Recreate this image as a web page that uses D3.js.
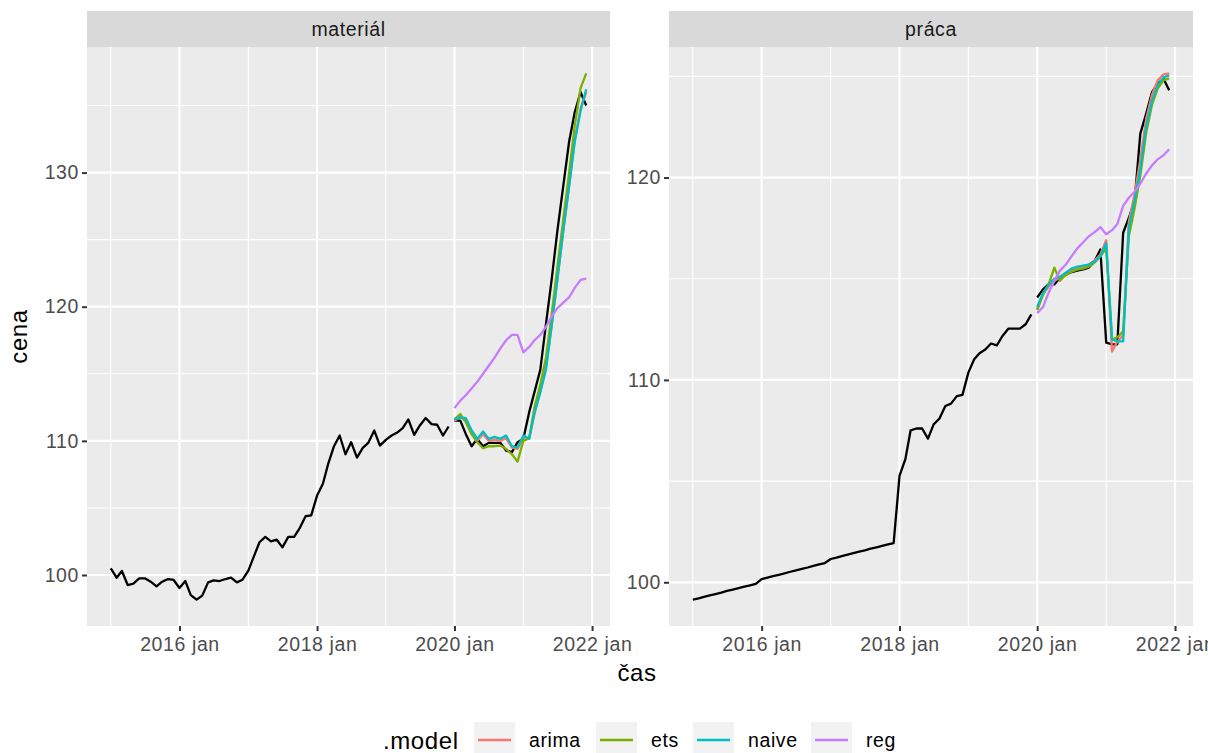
<!DOCTYPE html>
<html>
<head>
<meta charset="utf-8">
<script src="https://cdn.jsdelivr.net/npm/d3@7"></script>
<style>
  body { margin: 0; background: #fff; }
  svg { display: block; }
  text { font-family: "Liberation Sans", Arial, sans-serif; }
</style>
</head>
<body>
<svg id="chart" width="1208" height="753"></svg>
<script>
// ---- data (monthly) ----
const trainStart = new Date(2015, 0, 1);
const testStart = new Date(2020, 0, 1);

const facets = ["materiál", "práca"];
const models = ["arima", "ets", "naive", "reg"];

// materiál: actual 2015-01 .. 2019-12
const materialTrain = [
  100.5, 99.8, 100.3, 99.25, 99.35, 99.75, 99.75, 99.5, 99.15, 99.5, 99.7, 99.63,
  99.03, 99.55, 98.5, 98.16, 98.46, 99.45, 99.6, 99.55, 99.7, 99.8, 99.45, 99.65,
  100.32, 101.44, 102.44, 102.84, 102.5, 102.63, 102.06, 102.84, 102.84, 103.5, 104.38, 104.45,
  105.92, 106.8, 108.28, 109.6, 110.4, 109.0, 109.9, 108.75, 109.48, 109.87, 110.77, 109.65,
  110.07, 110.4, 110.6, 110.95, 111.6, 110.45, 111.15, 111.7, 111.25, 111.2, 110.4, 111.07
];
// materiál: actual 2020-01 .. 2021-12
const materialTest = [
  111.51, 111.51, 110.52, 109.6, 110.15, 109.6, 109.85, 109.85, 109.85, 109.28, 109.16, 109.9,
  110.15, 112.14, 113.63, 115.3, 118.7, 122.1, 125.7, 129.0, 132.3, 134.5, 136.0, 135.0
];
const materialArima = [
  111.5, 111.8, 111.5, 110.6, 110.0, 110.5, 110.0, 110.1, 110.0, 110.2, 109.5, 109.4,
  110.2, 110.2, 112.0, 113.7, 115.5, 118.6, 122.0, 125.6, 129.0, 132.4, 134.8, 136.0
];
const materialEts = [
  111.6, 112.0, 111.4, 110.5, 109.9, 109.45, 109.6, 109.6, 109.65, 109.4, 109.0, 108.45,
  110.0, 110.2, 112.5, 114.2, 116.2, 119.5, 123.0, 126.5, 130.0, 133.5, 136.3, 137.4
];
const materialNaive = [
  111.6, 111.75, 111.7, 110.8, 110.15, 110.7, 110.15, 110.3, 110.15, 110.4, 109.6, 109.5,
  110.4, 110.15, 112.1, 113.6, 115.3, 118.7, 122.1, 125.7, 129.0, 132.3, 134.6, 136.2
];
const materialReg = [
  112.44, 113.0, 113.4, 113.9, 114.4, 115.0, 115.6, 116.2, 116.9, 117.5, 117.9, 117.9,
  116.6, 117.0, 117.5, 117.9, 118.5, 119.3, 119.9, 120.3, 120.7, 121.4, 122.0, 122.1
];

// práca: actual 2015-01 .. 2019-12
const pracaTrain = [
  99.14, 99.21, 99.28, 99.35, 99.42, 99.49, 99.57, 99.64, 99.71, 99.78, 99.85, 99.92,
  100.16, 100.23, 100.3, 100.37, 100.44, 100.52, 100.59, 100.66, 100.73, 100.81, 100.88, 100.95,
  101.15, 101.22, 101.29, 101.37, 101.44, 101.51, 101.58, 101.66, 101.73, 101.8, 101.87, 101.94,
  105.26, 106.08, 107.51, 107.6, 107.6, 107.1, 107.8, 108.09, 108.71, 108.83, 109.2, 109.26,
  110.36, 111.02, 111.32, 111.5, 111.8, 111.71, 112.17, 112.53, 112.53, 112.53, 112.75, 113.24
];
const pracaTest = [
  114.07, 114.47, 114.72, 114.72, 115.05, 115.2, 115.33, 115.4, 115.46, 115.55, 115.87, 116.45,
  111.84, 111.76, 111.76, 117.27, 118.0, 118.88, 122.17, 123.16, 124.22, 124.64, 124.88, 124.31
];
const pracaArima = [
  113.5, 114.25, 114.6, 114.9, 115.05, 115.3, 115.45, 115.55, 115.6, 115.7, 115.9, 116.2,
  116.9, 111.4, 111.9, 112.2, 117.8, 119.2, 120.9, 122.9, 124.1, 124.8, 125.1, 125.15
];
const pracaEts = [
  113.45, 114.2, 114.7, 115.55, 114.9, 115.2, 115.35, 115.45, 115.5, 115.6, 115.8, 116.1,
  116.5, 112.0, 112.1, 112.4, 117.1, 118.5, 120.1, 122.2, 123.6, 124.4, 124.8, 124.9
];
const pracaNaive = [
  113.6, 114.3, 114.7, 115.0, 115.1, 115.3, 115.5, 115.6, 115.65, 115.7, 115.85, 116.1,
  116.75, 112.0, 111.9, 111.9, 117.5, 118.9, 120.4, 122.5, 123.8, 124.55, 124.95, 125.05
];
const pracaReg = [
  113.3, 113.6, 114.3, 114.9, 115.4, 115.7, 116.1, 116.5, 116.8, 117.1, 117.3, 117.55,
  117.2, 117.4, 117.7, 118.6, 119.0, 119.3, 119.7, 120.2, 120.6, 120.9, 121.1, 121.4
];

const xMajorTicks = [new Date(2016, 0, 1), new Date(2018, 0, 1), new Date(2020, 0, 1), new Date(2022, 0, 1)];
const xMinorTicks = [new Date(2015, 0, 1), new Date(2017, 0, 1), new Date(2019, 0, 1), new Date(2021, 0, 1)];
const xTickLabel = d => d.getFullYear() + " jan";
const yMajorTicks = [[100, 110, 120, 130], [100, 110, 120]];
const yMinorTicks = [[105, 115, 125, 135], [105, 115, 125]];

const modelColors = ["#F8766D", "#7CAE00", "#00BFC4", "#C77CFF"];

// ---- layout ----
const svg = d3.select("#chart");
const panelTop = 47, panelBottom = 626, stripTop = 11;
const panels = [
  { x0: 87, x1: 610, train: materialTrain, test: materialTest,
    fc: [materialArima, materialEts, materialNaive, materialReg] },
  { x0: 669, x1: 1193, train: pracaTrain, test: pracaTest,
    fc: [pracaArima, pracaEts, pracaNaive, pracaReg] }
];

// text style: slightly wider than Arial metrics, like the reference
const smallText = sel => sel
  .style("font-size", "19.5px")
  .style("letter-spacing", "0.6px");

const monthsTrain = d3.timeMonth.range(trainStart, testStart);
const monthsTest = d3.timeMonth.range(testStart, new Date(2022, 0, 1));

const lastMonth = monthsTest[monthsTest.length - 1];
const span = lastMonth - trainStart;
const xDomain = [new Date(+trainStart - span * 0.05), new Date(+lastMonth + span * 0.05)];

const colorScale = d3.scaleOrdinal().domain(models).range(modelColors);

panels.forEach((p, i) => {
  const g = svg.append("g");

  const x = d3.scaleTime().domain(xDomain).range([p.x0, p.x1]);
  const all = p.train.concat(p.test, ...p.fc);
  const [lo, hi] = d3.extent(all);
  const pad = (hi - lo) * 0.05;
  const y = d3.scaleLinear().domain([lo - pad, hi + pad]).range([panelBottom, panelTop]);

  // background
  g.append("rect")
    .attr("x", p.x0).attr("y", panelTop)
    .attr("width", p.x1 - p.x0).attr("height", panelBottom - panelTop)
    .attr("fill", "#EBEBEB");

  // strip
  g.append("rect")
    .attr("x", p.x0).attr("y", stripTop)
    .attr("width", p.x1 - p.x0).attr("height", panelTop - stripTop)
    .attr("fill", "#D9D9D9");
  g.append("text")
    .attr("x", (p.x0 + p.x1) / 2).attr("y", (stripTop + panelTop) / 2)
    .attr("dy", "0.35em")
    .attr("text-anchor", "middle")
    .call(smallText)
    .style("fill", "#1A1A1A")
    .text(facets[i]);

  // grid
  g.selectAll(".ymin").data(yMinorTicks[i]).join("line")
    .attr("x1", p.x0).attr("x2", p.x1)
    .attr("y1", d => y(d)).attr("y2", d => y(d))
    .attr("stroke", "#fff").attr("stroke-width", 1.1);
  g.selectAll(".xmin").data(xMinorTicks).join("line")
    .attr("y1", panelTop).attr("y2", panelBottom)
    .attr("x1", d => x(d)).attr("x2", d => x(d))
    .attr("stroke", "#fff").attr("stroke-width", 1.1);
  g.selectAll(".ymaj").data(yMajorTicks[i]).join("line")
    .attr("x1", p.x0).attr("x2", p.x1)
    .attr("y1", d => y(d)).attr("y2", d => y(d))
    .attr("stroke", "#fff").attr("stroke-width", 2.2);
  g.selectAll(".xmaj").data(xMajorTicks).join("line")
    .attr("y1", panelTop).attr("y2", panelBottom)
    .attr("x1", d => x(d)).attr("x2", d => x(d))
    .attr("stroke", "#fff").attr("stroke-width", 2.2);

  // axes
  const xAxis = g.append("g")
    .attr("transform", `translate(0,${panelBottom})`)
    .call(d3.axisBottom(x).tickValues(xMajorTicks).tickFormat(xTickLabel).tickSizeInner(5).tickSizeOuter(0).tickPadding(6));
  const yAxis = g.append("g")
    .attr("transform", `translate(${p.x0},0)`)
    .call(d3.axisLeft(y).tickValues(yMajorTicks[i]).tickFormat(d3.format("d")).tickSizeInner(5).tickSizeOuter(0).tickPadding(3));
  [xAxis, yAxis].forEach(a => {
    a.select(".domain").remove();
    a.selectAll(".tick line").attr("stroke", "#333").attr("stroke-width", 2);
    a.selectAll(".tick text")
      .call(smallText)
      .style("font-family", "'Liberation Sans', Arial, sans-serif")
      .attr("fill", "#4D4D4D");
  });

  // lines
  const line = d3.line().x(d => x(d[0])).y(d => y(d[1]));
  const clipId = "clip" + i;
  svg.append("clipPath").attr("id", clipId).append("rect")
    .attr("x", p.x0).attr("y", panelTop).attr("width", p.x1 - p.x0).attr("height", panelBottom - panelTop);
  const lines = g.append("g").attr("clip-path", `url(#${clipId})`);

  [p.train, p.test].forEach((vals, k) => {
    const months = k === 0 ? monthsTrain : monthsTest;
    lines.append("path")
      .datum(months.map((m, j) => [m, vals[j]]))
      .attr("d", line)
      .attr("fill", "none")
      .attr("stroke", "#000")
      .attr("stroke-width", 2.3)
      .attr("stroke-linejoin", "round");
  });
  p.fc.forEach((vals, k) => {
    lines.append("path")
      .datum(monthsTest.map((m, j) => [m, vals[j]]))
      .attr("d", line)
      .attr("fill", "none")
      .attr("stroke", colorScale(models[k]))
      .attr("stroke-width", 2.3)
      .attr("stroke-linejoin", "round");
  });
});

// axis titles
svg.append("text")
  .attr("x", 637).attr("y", 681)
  .attr("text-anchor", "middle")
  .style("font-size", "24px")
  .style("letter-spacing", "0.6px")
  .text("čas");
svg.append("text")
  .attr("transform", `translate(27,${(panelTop + panelBottom) / 2}) rotate(-90)`)
  .attr("text-anchor", "middle")
  .style("font-size", "24px")
  .style("letter-spacing", "0.6px")
  .text("cena");

// legend
const legend = svg.append("g");
legend.append("text")
  .attr("x", 383).attr("y", 749)
  .style("font-size", "24px")
  .style("letter-spacing", "0.6px")
  .text(".model");
const keyX = [474, 596, 693, 811];
models.forEach((m, i) => {
  const row = legend.append("g").attr("transform", `translate(${keyX[i]},722)`);
  row.append("rect")
    .attr("width", 41).attr("height", 33)
    .attr("fill", "#F2F2F2");
  row.append("line")
    .attr("x1", 4).attr("x2", 37)
    .attr("y1", 18).attr("y2", 18)
    .attr("stroke", colorScale(m)).attr("stroke-width", 2.3);
  row.append("text")
    .attr("x", 55).attr("y", 25)
    .call(smallText)
    .style("fill", "#000")
    .text(m);
});
</script>
</body>
</html>
